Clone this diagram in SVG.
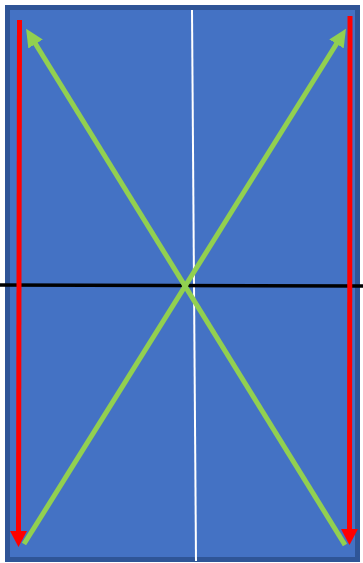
<svg xmlns="http://www.w3.org/2000/svg" width="363" height="563" viewBox="0 0 363 563">
<style>
.red{stroke:#FF0000;stroke-width:5;fill:none}
.green{stroke:#92D050;stroke-width:5;fill:none}
</style>
<defs>
<marker id="ar" markerUnits="userSpaceOnUse" markerWidth="16" markerHeight="17" refX="2" refY="8.5" orient="auto" viewBox="0 0 16 17"><path d="M0,0 L16,8.5 L0,17 Z" fill="#FF0000"/></marker>
<marker id="ag" markerUnits="userSpaceOnUse" markerWidth="18" markerHeight="17" refX="2" refY="8.5" orient="auto" viewBox="0 0 18 17"><path d="M0,0 L18,8.5 L0,17 Z" fill="#92D050"/></marker>
</defs>
<rect width="363" height="563" fill="#FFFFFF"/>
<g id="panel">
<rect x="7.5" y="7.5" width="350" height="552" fill="#4472C4" stroke="#2F5597" stroke-width="5"/>
</g>
<g id="connectors">
<line x1="192" y1="10" x2="196" y2="561" stroke="#FFFFFF" stroke-width="2"/>
<line x1="0" y1="285" x2="363" y2="286" stroke="#000000" stroke-width="3.5"/>
<line class="red" x1="19.5" y1="20" x2="18.5" y2="533" marker-end="url(#ar)"/>
<line class="red" x1="350" y1="16" x2="349.5" y2="531" marker-end="url(#ar)"/>
<line class="green" x1="24" y1="544" x2="337.5" y2="42.2" marker-end="url(#ag)"/>
<line class="green" x1="345" y1="545" x2="34.5" y2="42.3" marker-end="url(#ag)"/>
</g>
</svg>
